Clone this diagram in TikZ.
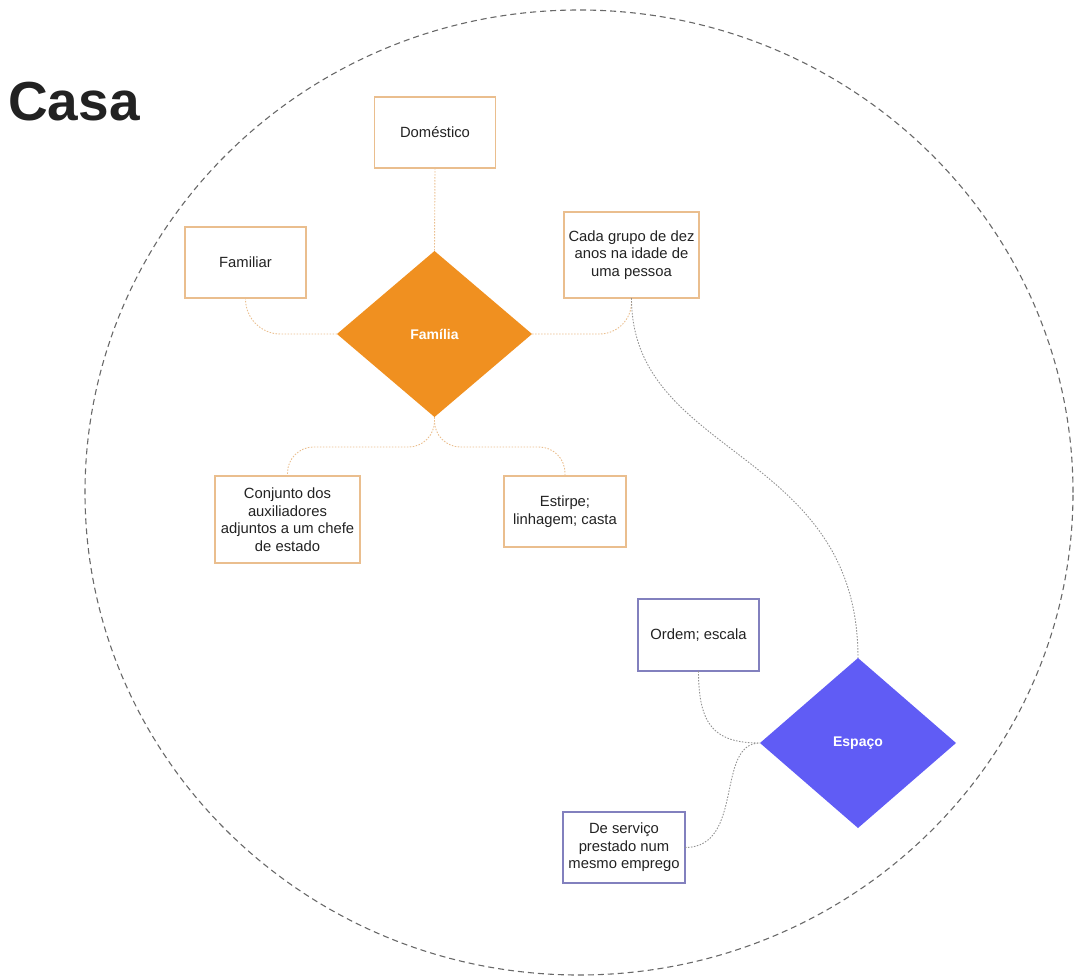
\documentclass[tikz,border=0pt]{standalone}
\usepackage{fontspec}
\setmainfont{Liberation Sans}
\usetikzlibrary{shapes.geometric}
\definecolor{orng}{RGB}{240,144,32}
\definecolor{orngline}{RGB}{234,190,142}
\definecolor{purp}{RGB}{96,92,245}
\definecolor{purpline}{RGB}{130,128,190}
\definecolor{circ}{RGB}{105,105,105}
\definecolor{txt}{RGB}{34,34,34}
\definecolor{gconnc}{RGB}{145,145,145}
\begin{document}
\begin{tikzpicture}[x=1pt,y=1pt,
  obox/.style={draw=orngline, line width=1.2pt, rectangle, align=center, text=txt,
    font=\fontsize{14.8}{17.5}\selectfont, inner sep=0pt, outer sep=0pt},
  pbox/.style={obox, draw=purpline},
  dia/.style={diamond, inner sep=0pt, outer sep=0pt, text=white,
    font=\bfseries\fontsize{14}{16}\selectfont},
  oconn/.style={draw=orngline, line width=0.9pt, dash pattern=on 1.5pt off 1.5pt},
  gconn/.style={draw=gconnc, line width=0.9pt, dash pattern=on 1.5pt off 1.5pt}]
\useasboundingbox (0,0) rectangle (1074,-977);
\draw[circ, dash pattern=on 6pt off 4pt, line width=1.1pt]
  (579,-492.5) ellipse [x radius=494, y radius=482.5];
\node[anchor=base west, inner sep=0pt, text=txt,
  font=\bfseries\fontsize{55}{60}\selectfont] (title) at (8,-120) {Casa};

\node[obox, minimum width=121pt, minimum height=71pt] (dom) at (435,-132.5) {Doméstico};
\node[obox, minimum width=121pt, minimum height=71pt] (famil) at (245.5,-262.5) {Familiar};
\node[obox, minimum width=135pt, minimum height=86pt] (cada) at (631.5,-255)
  {Cada grupo de dez\\anos na idade de\\uma pessoa};
\node[dia, fill=orng, minimum width=195pt, minimum height=166pt] (fam) at (434.5,-334) {Família};
\node[obox, minimum width=145pt, minimum height=87pt] (conj) at (287.5,-519.5)
  {Conjunto dos\\auxiliadores\\adjuntos a um chefe\\de estado};
\node[obox, minimum width=122pt, minimum height=71pt] (estp) at (565,-511.5)
  {Estirpe;\\linhagem; casta};
\node[pbox, minimum width=121pt, minimum height=72pt] (ord) at (698.5,-635) {Ordem; escala};
\node[dia, fill=purp, minimum width=196pt, minimum height=170pt] (esp) at (858,-743) {Espaço};
\node[pbox, minimum width=122pt, minimum height=71pt] (serv) at (624,-847.5)
  {De serviço\\prestado num\\mesmo emprego};

\draw[oconn] (dom.south) -- (fam.north);
\draw[oconn, rounded corners=35pt] (fam.west) -| (famil.south);
\draw[oconn, rounded corners=32pt] (fam.east) -| (cada.south);
\draw[oconn, rounded corners=26pt] (fam.south) |- ([yshift=29pt]conj.north) -- (conj.north);
\draw[oconn, rounded corners=26pt] (fam.south) |- ([yshift=29pt]estp.north) -- (estp.north);
\draw[gconn] (cada.south) .. controls +(0,-160) and +(0,210) .. (esp.north);
\draw[gconn] (ord.south) .. controls +(0,-55) and +(-45,0) .. (esp.west);
\draw[gconn] (serv.east) .. controls +(60,0) and +(-45,0) .. (esp.west);
\end{tikzpicture}
\end{document}
